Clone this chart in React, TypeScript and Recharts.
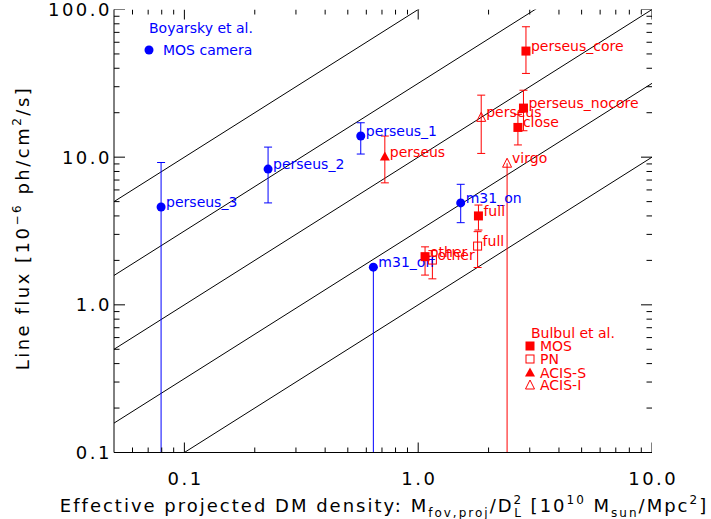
import React from "react";
import { ScatterChart, Scatter, XAxis, YAxis, ErrorBar, ReferenceLine } from "recharts";

const W = 711;
const H = 519;
const FONT = "'DejaVu Sans', sans-serif";
const BLUE = "#0000ff";
const RED = "#ff0000";

// Boyarsky et al., MOS camera
const boyNames = ["perseus_3", "perseus_2", "perseus_1", "m31_on", "m31_off"];
const boyX = [0.0795, 0.228, 0.568, 1.52, 0.643];
const boyY = [4.6, 8.3, 13.9, 4.9, 1.8];
const boyLo = [0.1, 4.9, 10.5, 3.6, 0.1];
const boyHi = [9.2, 11.7, 17.1, 6.55, 1.8];

// Bulbul et al., MOS
const mosNames = ["perseus_core", "perseus_nocore", "close", "full", "other"];
const mosX = [2.89, 2.82, 2.67, 1.81, 1.07];
const mosY = [52.3, 21.5, 15.9, 4.0, 2.12];
const mosLo = [36.9, 15.1, 12.1, 3.21, 1.59];
const mosHi = [76.4, 28.4, 19.5, 4.74, 2.47];

// Bulbul et al., PN
const pnNames = ["full", "other"];
const pnX = [1.795, 1.15];
const pnY = [2.5, 2.01];
const pnLo = [1.79, 1.5];
const pnHi = [3.13, 2.33];

// Bulbul et al., ACIS-S
const acisSNames = ["perseus"];
const acisSX = [0.72];
const acisSY = [10.1];
const acisSLo = [6.7];
const acisSHi = [13.9];

// Bulbul et al., ACIS-I (virgo is an upper limit)
const acisINames = ["perseus"];
const acisIX = [1.86];
const acisIY = [18.6];
const acisILo = [10.6];
const acisIHi = [26.3];
const limINames = ["virgo"];
const limIX = [2.4];
const limIY = [9.1];
const limILo = [0.1];
const limIHi = [9.1];

// lines of constant flux / density ratio
const lineK = [1, 3.162, 10, 31.62, 100];

const xMin = 0.05;
const xMax = 10;
const yMin = 0.1;
const yMax = 100;
const xMajor = [0.1, 1, 10];
const xMinor = [0.06, 0.07, 0.08, 0.09, 0.2, 0.3, 0.4, 0.5, 0.6, 0.7, 0.8, 0.9, 2, 3, 4, 5, 6, 7, 8, 9];
const yMajor = [0.1, 1, 10, 100];
const yMinor = [0.2, 0.3, 0.4, 0.5, 0.6, 0.7, 0.8, 0.9, 2, 3, 4, 5, 6, 7, 8, 9, 20, 30, 40, 50, 60, 70, 80, 90];

type Row = { name: string; x: number; y: number; err: [number, number] };

function makeRows(names: string[], xs: number[], ys: number[], lo: number[], hi: number[]): Row[] {
  return names.map((n, i) => ({ name: n, x: xs[i], y: ys[i], err: [ys[i] - lo[i], hi[i] - ys[i]] }));
}

const boyRows = makeRows(boyNames, boyX, boyY, boyLo, boyHi);
const mosRows = makeRows(mosNames, mosX, mosY, mosLo, mosHi);
const pnRows = makeRows(pnNames, pnX, pnY, pnLo, pnHi);
const acisSRows = makeRows(acisSNames, acisSX, acisSY, acisSLo, acisSHi);
const acisIRows = makeRows(acisINames, acisIX, acisIY, acisILo, acisIHi);
const limIRows = makeRows(limINames, limIX, limIY, limILo, limIHi);

// tick marks on all four sides of the frame, placed through the chart's own scales
const tickRows = (vals: number[], major: boolean, at: (v: number) => { x: number; y: number }) =>
  vals.map((v) => ({ ...at(v), major }));
const bottomMarks = [
  ...tickRows(xMajor, true, (v) => ({ x: v, y: yMin })),
  ...tickRows(xMinor, false, (v) => ({ x: v, y: yMin })),
];
const topMarks = [
  ...tickRows(xMajor, true, (v) => ({ x: v, y: yMax })),
  ...tickRows(xMinor, false, (v) => ({ x: v, y: yMax })),
];
const leftMarks = [
  ...tickRows(yMajor, true, (v) => ({ x: xMin, y: v })),
  ...tickRows(yMinor, false, (v) => ({ x: xMin, y: v })),
];
const rightMarks = [
  ...tickRows(yMajor, true, (v) => ({ x: xMax, y: v })),
  ...tickRows(yMinor, false, (v) => ({ x: xMax, y: v })),
];

const markShape = (dx: number, dy: number) => (p: any) => {
  const f = p.payload.major ? 1 : 0.5;
  return <line x1={p.cx} y1={p.cy} x2={p.cx + dx * f} y2={p.cy + dy * f} stroke="#000" strokeWidth={1} />;
};

const isMajor = (v: number) => Math.abs(Math.log10(v) - Math.round(Math.log10(v))) < 1e-6;
const fmt = (v: number) => (v < 1 ? String(v) : v.toFixed(1));

function marker(kind: string, cx: number, cy: number, color: string) {
  switch (kind) {
    case "dot":
      return <circle cx={cx} cy={cy} r={4.5} fill={color} />;
    case "sq":
      return <rect x={cx - 4.5} y={cy - 4.5} width={9} height={9} fill={color} />;
    case "osq":
      return <rect x={cx - 4} y={cy - 4} width={8} height={8} fill="none" stroke={color} strokeWidth={1} />;
    case "tri":
      return <polygon points={`${cx},${cy - 5} ${cx - 5},${cy + 4} ${cx + 5},${cy + 4}`} fill={color} />;
    default:
      return (
        <polygon
          points={`${cx},${cy - 5} ${cx - 4.5},${cy + 4} ${cx + 4.5},${cy + 4}`}
          fill="none"
          stroke={color}
          strokeWidth={1}
        />
      );
  }
}

const pointShape = (kind: string, color: string) => (p: any) => (
  <g>
    {marker(kind, p.cx, p.cy, color)}
    <text x={p.cx + 5} y={p.cy - 5} dominantBaseline="central" fontSize={14} fontFamily={FONT} fill={color}>
      {p.payload.name}
    </text>
  </g>
);

const tickText = { fontSize: 18, fontFamily: FONT, letterSpacing: 2.5, fill: "#000" };

const BottomLabel = (p: any) => {
  const v = p.payload.value;
  return (
    <text x={p.x + 1.25} y={p.y + 26} textAnchor="middle" dominantBaseline="central" {...tickText}>
      {fmt(v)}
    </text>
  );
};

const LeftLabel = (p: any) => {
  const v = p.payload.value;
  return (
    <text x={p.x - 2} y={p.y} textAnchor="end" dominantBaseline="central" {...tickText}>
      {fmt(v)}
    </text>
  );
};

const titleText = { fontSize: 18, fontFamily: FONT, letterSpacing: 2, fill: "#000" };
const small = 12;

function Overlay() {
  return (
    <svg width={W} height={H} style={{ position: "absolute", left: 0, top: 0, pointerEvents: "none" }}>
      <text x={149} y={28} dominantBaseline="central" fontSize={14} fontFamily={FONT} fill={BLUE}>
        Boyarsky et al.
      </text>
      {marker("dot", 149, 50, BLUE)}
      <text x={163} y={50} dominantBaseline="central" fontSize={14} fontFamily={FONT} fill={BLUE}>
        MOS camera
      </text>

      <text x={531} y={333} dominantBaseline="central" fontSize={14} fontFamily={FONT} fill={RED}>
        Bulbul et al.
      </text>
      {marker("sq", 530, 346, RED)}
      <text x={540} y={346} dominantBaseline="central" fontSize={14} fontFamily={FONT} fill={RED}>MOS</text>
      {marker("osq", 530, 359, RED)}
      <text x={540} y={359} dominantBaseline="central" fontSize={14} fontFamily={FONT} fill={RED}>PN</text>
      {marker("tri", 530, 372.5, RED)}
      <text x={540} y={372.5} dominantBaseline="central" fontSize={14} fontFamily={FONT} fill={RED}>ACIS-S</text>
      {marker("otri", 530, 385, RED)}
      <text x={540} y={385} dominantBaseline="central" fontSize={14} fontFamily={FONT} fill={RED}>ACIS-I</text>

      <text x={384} y={512} textAnchor="middle" {...titleText}>
        Effective projected DM density: M
        <tspan fontSize={small} dy={5}>fov,proj</tspan>
        <tspan dy={-5}>/D</tspan>
        <tspan fontSize={small} dy={-8}>2</tspan>
        <tspan fontSize={small} dx={-9} dy={13}>L</tspan>
        <tspan dy={-5}> [10</tspan>
        <tspan fontSize={small} dy={-8}>10</tspan>
        <tspan dy={8}> M</tspan>
        <tspan fontSize={small} dy={5}>sun</tspan>
        <tspan dy={-5}>/Mpc</tspan>
        <tspan fontSize={small} dy={-8}>2</tspan>
        <tspan dy={8}>]</tspan>
      </text>

      <text x={0} y={0} transform="translate(29,228) rotate(-90)" textAnchor="middle" {...titleText} letterSpacing={2.5}>
        Line flux [10
        <tspan fontSize={small} dy={-8}>−6</tspan>
        <tspan dy={8}> ph/cm</tspan>
        <tspan fontSize={small} dy={-8}>2</tspan>
        <tspan dy={8}>/s]</tspan>
      </text>
    </svg>
  );
}

const axisCommon = {
  type: "number" as const,
  scale: "log" as const,
  allowDataOverflow: true,
  interval: 0 as const,
  tickSize: 0,
  tickMargin: 0,
  tickLine: false,
  axisLine: { stroke: "#000" },
};

export default function App() {
  return (
    <div style={{ position: "absolute", left: 0, top: 0, width: W, height: H, background: "#fff" }}>
      <ScatterChart width={W} height={H} margin={{ top: 9.5, right: 59, bottom: 0, left: 0 }}>
        <XAxis
          {...axisCommon}
          xAxisId="b"
          dataKey="x"
          domain={[xMin, xMax]}
          ticks={xMajor}
          tick={<BottomLabel />}
          height={66.5}
        />
        <XAxis
          {...axisCommon}
          xAxisId="t"
          orientation="top"
          dataKey="x"
          domain={[xMin, xMax]}
          ticks={xMajor}
          tick={false}
          height={0}
        />
        <YAxis
          {...axisCommon}
          yAxisId="l"
          dataKey="y"
          domain={[yMin, yMax]}
          ticks={yMajor}
          tick={<LeftLabel />}
          width={114}
        />
        <YAxis
          {...axisCommon}
          yAxisId="r"
          orientation="right"
          dataKey="y"
          domain={[yMin, yMax]}
          ticks={yMajor}
          tick={false}
          width={0}
        />
        {lineK.map((k) => (
          <ReferenceLine
            key={k}
            xAxisId="b"
            yAxisId="l"
            segment={[
              { x: xMin, y: xMin * k },
              { x: xMax, y: xMax * k },
            ]}
            stroke="#000"
            strokeWidth={1}
            ifOverflow="hidden"
          />
        ))}
        <Scatter xAxisId="b" yAxisId="l" data={bottomMarks} shape={markShape(0, -10)} isAnimationActive={false} />
        <Scatter xAxisId="b" yAxisId="l" data={topMarks} shape={markShape(0, 10)} isAnimationActive={false} />
        <Scatter xAxisId="b" yAxisId="l" data={leftMarks} shape={markShape(11, 0)} isAnimationActive={false} />
        <Scatter xAxisId="b" yAxisId="l" data={rightMarks} shape={markShape(-11, 0)} isAnimationActive={false} />
        <Scatter xAxisId="b" yAxisId="l" data={boyRows} shape={pointShape("dot", BLUE)} isAnimationActive={false}>
          <ErrorBar dataKey="err" direction="y" width={4} stroke={BLUE} strokeWidth={1} />
        </Scatter>
        <Scatter xAxisId="b" yAxisId="l" data={limIRows} shape={pointShape("otri", RED)} isAnimationActive={false}>
          <ErrorBar dataKey="err" direction="y" width={0} stroke={RED} strokeWidth={1} />
        </Scatter>
        <Scatter xAxisId="b" yAxisId="l" data={acisIRows} shape={pointShape("otri", RED)} isAnimationActive={false}>
          <ErrorBar dataKey="err" direction="y" width={4} stroke={RED} strokeWidth={1} />
        </Scatter>
        <Scatter xAxisId="b" yAxisId="l" data={acisSRows} shape={pointShape("tri", RED)} isAnimationActive={false}>
          <ErrorBar dataKey="err" direction="y" width={4} stroke={RED} strokeWidth={1} />
        </Scatter>
        <Scatter xAxisId="b" yAxisId="l" data={pnRows} shape={pointShape("osq", RED)} isAnimationActive={false}>
          <ErrorBar dataKey="err" direction="y" width={4} stroke={RED} strokeWidth={1} />
        </Scatter>
        <Scatter xAxisId="b" yAxisId="l" data={mosRows} shape={pointShape("sq", RED)} isAnimationActive={false}>
          <ErrorBar dataKey="err" direction="y" width={4} stroke={RED} strokeWidth={1} />
        </Scatter>
      </ScatterChart>
      <Overlay />
    </div>
  );
}
